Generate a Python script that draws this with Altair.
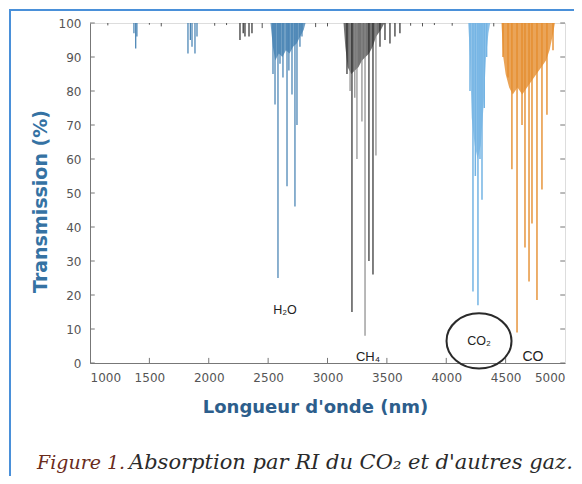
import altair as alt
import pandas as pd

# ---- data ----
# H2O absorption lines (nm, transmission %)
h2o_nm = [1370, 1385, 1395, 1825, 1845, 1859, 1884, 1901,
          2541, 2558, 2583, 2600, 2625, 2659, 2675, 2701, 2726, 2743, 2768, 2785]
h2o_T = [97, 92.5, 96, 91, 95, 93, 91, 96,
         85, 76, 25, 88, 84, 52, 86, 79, 46, 70, 93, 96]
h2o_env_nm = [2520, 2540, 2560, 2590, 2620, 2650, 2680, 2710, 2740, 2770, 2800, 2815]
h2o_env_T = [100, 93, 89, 91, 90, 92, 91, 93, 94, 96, 98, 100]

# CH4 lines: dark and grey components
ch4_dark_nm = [2263, 2290, 2305, 2339, 2364, 3164, 3206, 3349, 3383, 3442, 3484, 3526, 3568, 3610]
ch4_dark_T = [95, 97, 96, 96, 97, 85, 15, 30, 26, 93, 95, 94, 96, 97]
ch4_gray_nm = [3190, 3230, 3248, 3290, 3316, 3408]
ch4_gray_T = [80, 78, 60, 71, 8, 61]
ch4_env_nm = [3135, 3150, 3170, 3200, 3230, 3260, 3290, 3320, 3350, 3380, 3410, 3450, 3480]
ch4_env_T = [100, 93, 87, 85, 86, 87, 89, 90, 91, 93, 96, 98, 100]

# CO2 lines
co2_nm = [4200, 4225, 4245, 4267, 4284, 4301, 4320, 4340]
co2_T = [80, 21, 55, 17, 60, 48, 75, 90]
co2_env_nm = [4185, 4200, 4215, 4240, 4265, 4290, 4315, 4335, 4355, 4370]
co2_env_T = [100, 90, 72, 64, 60, 64, 76, 90, 97, 100]

# CO lines
co_nm = [4478, 4520, 4553, 4596, 4638, 4663, 4697, 4722, 4764, 4806, 4848, 4899]
co_T = [90, 84, 57, 9, 70, 34, 24, 41, 18.5, 51, 73, 92]
co_env_nm = [4465, 4480, 4500, 4530, 4560, 4600, 4640, 4680, 4720, 4760, 4800, 4840, 4870, 4900, 4915]
co_env_T = [100, 90, 85, 81, 79, 81, 79, 81, 83, 85, 87, 89, 92, 97, 100]

# small noise near 100 %
noise_nm = [1150, 1500, 1600, 2050, 2150, 2450, 2900, 3000, 3700, 3800, 3900, 4050, 4400]
noise_T = [99.3, 99.5, 99, 99.2, 99.4, 98.5, 98.8, 99, 99.2, 99, 99.4, 99.2, 99]

x_ticks = [1000, 1500, 2000, 2500, 3000, 3500, 4000, 4500, 5000]
y_ticks = [0, 10, 20, 30, 40, 50, 60, 70, 80, 90, 100]

labels_text = ["H₂O", "CH₄", "CO₂", "CO"]
labels_nm = [2642, 3341, 4276, 4730]
labels_T = [15.6, 1.8, 6.5, 1.8]
labels_size = [12.5, 13, 12.5, 14]

# ---- tables ----
def lines(nm, T):
    return pd.DataFrame({"nm": nm, "T": T, "top": [100] * len(nm)})

W, H = 475, 340
xs = alt.Scale(domain=[1000, 5000], nice=False, zero=False)
ys = alt.Scale(domain=[0, 100], nice=False)

xax = alt.Axis(values=x_ticks, format="d", tickSize=0, labelPadding=9, grid=False,
               labelOverlap=False, domainColor="#777", labelColor="#555", labelFont="DejaVu Sans",
               labelFontSize=12, title="Longueur d'onde (nm)", titleFont="DejaVu Sans",
               titleFontSize=18, titleFontWeight="bold", titleColor="#2d5e8c",
               titleX=225, titleY=44, titleBaseline="middle")
yax = alt.Axis(values=y_ticks, tickSize=0, labelPadding=9, grid=False,
               labelOverlap=False, domainColor="#777", labelColor="#555", labelFont="DejaVu Sans",
               labelFontSize=12, title="Transmission (%)", titleFont="DejaVu Sans",
               titleFontSize=19, titleFontWeight="bold", titleColor="#3572a3",
               titleX=-50, titleY=178, titleBaseline="middle", titleAngle=-90)

XN = lambda f: alt.X(f, scale=xs, axis=xax, title="Longueur d'onde (nm)")
YN = lambda f: alt.Y(f, scale=ys, axis=yax, title="Transmission (%)")

def area(nm, T, color, op):
    return alt.Chart(lines(nm, T)).mark_area(color=color, opacity=op, interpolate="linear").encode(
        x=XN("nm:Q"), y=YN("T:Q"), y2="top:Q")

def rules(nm, T, color, w=1.2):
    return alt.Chart(lines(nm, T)).mark_rule(color=color, strokeWidth=w).encode(
        x=XN("nm:Q"), y=YN("T:Q"), y2="top:Q")

C_H2O, C_CH4D, C_CH4G, C_CO2, C_CO = "#3f7db0", "#2b2b2b", "#8a8a8a", "#74b4e4", "#e58d2e"

layers = [
    rules(noise_nm, noise_T, "#555", 1),
    area(h2o_env_nm, h2o_env_T, C_H2O, 0.75),
    area(ch4_env_nm, ch4_env_T, "#444", 0.75),
    area(co2_env_nm, co2_env_T, C_CO2, 0.8),
    area(co_env_nm, co_env_T, C_CO, 0.8),
    rules(h2o_nm, h2o_T, C_H2O),
    rules(ch4_gray_nm, ch4_gray_T, C_CH4G),
    rules(ch4_dark_nm, ch4_dark_T, C_CH4D),
    rules(co2_nm, co2_T, C_CO2, 1.5),
    rules(co_nm, co_T, C_CO, 1.4),
]

# inward ticks
tk_left = pd.DataFrame({"y": y_ticks, "a": [1000] * len(y_ticks), "b": [1040] * len(y_ticks)})
tk_right = pd.DataFrame({"y": y_ticks, "a": [4960] * len(y_ticks), "b": [5000] * len(y_ticks)})
tk_bot = pd.DataFrame({"x": x_ticks[1:-1], "a": [0] * 7, "b": [1.5] * 7})
for df in (tk_left, tk_right):
    layers.append(alt.Chart(df).mark_rule(color="#777", strokeWidth=1).encode(
        x=XN("a:Q"), x2="b:Q", y=YN("y:Q")))
layers.append(alt.Chart(tk_bot).mark_rule(color="#777", strokeWidth=1).encode(
    x=XN("x:Q"), y=YN("a:Q"), y2="b:Q"))

# gas labels
lab = pd.DataFrame({"t": labels_text, "nm": labels_nm, "T": labels_T, "s": labels_size})
layers.append(alt.Chart(lab).mark_text(font="Liberation Sans", color="#222").encode(
    x=XN("nm:Q"), y=YN("T:Q"), text="t:N",
    size=alt.Size("s:Q", scale=None, legend=None)))

# circle around CO2
circ = pd.DataFrame({"nm": [labels_nm[2]], "T": [labels_T[2]]})
layers.append(alt.Chart(circ).mark_point(
    shape="M -1 0 A 1 0.85 0 1 0 1 0 A 1 0.85 0 1 0 -1 0 Z",
    filled=False, size=4225, stroke="#2a2a2a", strokeWidth=2, opacity=1).encode(
    x=XN("nm:Q"), y=YN("T:Q")))

# frame lines (decoration)
layers.append(alt.Chart(pd.DataFrame({"k": [0]})).mark_rule(color="#4a90d9", strokeWidth=2).encode(
    x=alt.value(-80), y=alt.value(-13), y2=alt.value(460)))
layers.append(alt.Chart(pd.DataFrame({"k": [0]})).mark_rule(color="#4a90d9", strokeWidth=2).encode(
    x=alt.value(-81), x2=alt.value(500), y=alt.value(-13)))

# caption
cap1 = alt.Chart(pd.DataFrame({"t": ["Figure 1."]})).mark_text(
    font="DejaVu Serif", fontStyle="italic", fontSize=19, color="#6a2c1c",
    align="left", baseline="alphabetic").encode(x=alt.value(-53), y=alt.value(446), text="t:N")
cap2 = alt.Chart(pd.DataFrame({"t": ["Absorption par RI du CO₂ et d'autres gaz."]})).mark_text(
    font="DejaVu Serif", fontStyle="italic", fontSize=21, color="#2a2a2a",
    align="left", baseline="alphabetic").encode(x=alt.value(39), y=alt.value(446), text="t:N")
layers += [cap1, cap2]

chart = alt.layer(*layers).properties(
    width=W, height=H,
    autosize=alt.AutoSizeParams(type="none"),
    padding={"left": 82, "top": 15, "right": 9, "bottom": 113},
).configure_view(stroke="#777", strokeWidth=1).configure(background="white")

chart.save("out.html", embed_options={"renderer": "svg", "actions": False})
